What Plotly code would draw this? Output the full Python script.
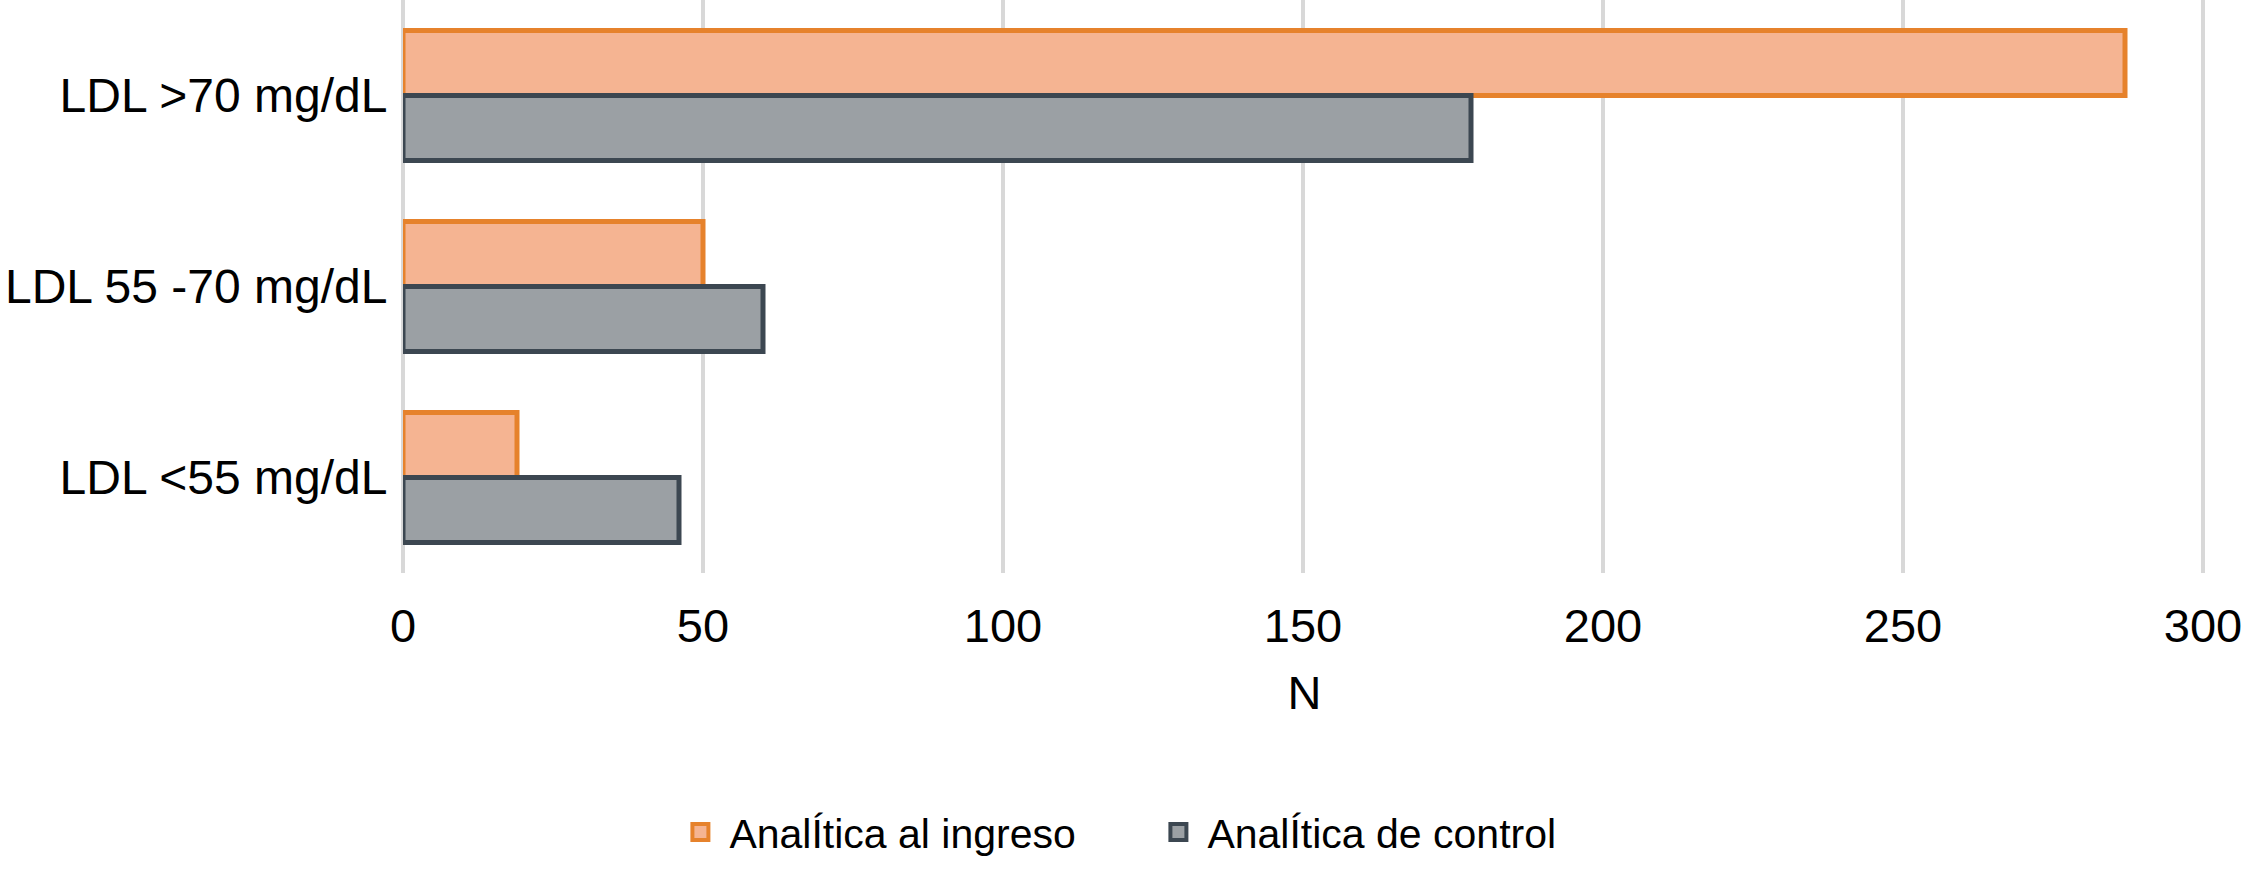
import plotly.graph_objects as go

categories = ["LDL >70 mg/dL", "LDL 55 -70 mg/dL", "LDL <55 mg/dL"]
series_names = ["AnalÍtica al ingreso", "AnalÍtica de control"]
ingreso = [287, 50, 19]
control = [178, 60, 46]
x_ticks = [0, 50, 100, 150, 200, 250, 300]

FONT = "Arial, Liberation Sans, sans-serif"
fills = ["#f5b492", "#9ba0a4"]
borders = ["#e6822c", "#3c4751"]

fig = go.Figure()
for name, vals, fc, bc in zip(series_names, [ingreso, control], fills, borders):
    fig.add_trace(go.Bar(
        y=categories, x=vals, name=name, orientation="h", showlegend=False,
        legendgroup=name,
        marker=dict(color=fc, line=dict(color=bc, width=5)),
    ))
# legend keys (no data points)
for name, fc, bc in zip(series_names, fills, borders):
    fig.add_trace(go.Scatter(
        x=[None], y=[None], mode="markers", name=name, legendgroup=name,
        marker=dict(symbol="square", size=16, color=fc, line=dict(color=bc, width=4)),
        hoverinfo="skip",
    ))

fig.update_layout(
    width=2248, height=869,
    margin=dict(l=403, r=42, t=0, b=296, autoexpand=False),
    paper_bgcolor="white", plot_bgcolor="white",
    barmode="group", bargap=0.32, bargroupgap=0,
    font=dict(family=FONT, size=47, color="black"),
    legend=dict(
        orientation="h", xref="container", yref="container",
        x=0.5113, xanchor="center", y=0.0422, yanchor="middle",
        font=dict(size=41, family=FONT, color="black"),
        entrywidth=415, itemwidth=48, itemsizing="trace",
    ),
    xaxis=dict(
        range=[0, 300.5], tickvals=x_ticks, ticktext=[str(v) for v in x_ticks],
        automargin=False,
        showgrid=True, gridcolor="#d8d8d8", gridwidth=3.5,
        zeroline=True, zerolinecolor="#d8d8d8", zerolinewidth=3.5,
        showline=False, ticks="outside", ticklen=12, tickcolor="rgba(0,0,0,0)",
        tickfont=dict(size=47),
        title=dict(text="N", font=dict(size=47), standoff=24),
    ),
    yaxis=dict(
        autorange="reversed", categoryorder="array", categoryarray=categories,
        automargin=False,
        showgrid=False, zeroline=False, showline=False,
        ticks="outside", ticklen=5, tickcolor="rgba(0,0,0,0)",
        tickfont=dict(size=48),
    ),
)

fig.write_html("out.html", config={"displayModeBar": False},
               post_script="document.body.style.margin='0';")
